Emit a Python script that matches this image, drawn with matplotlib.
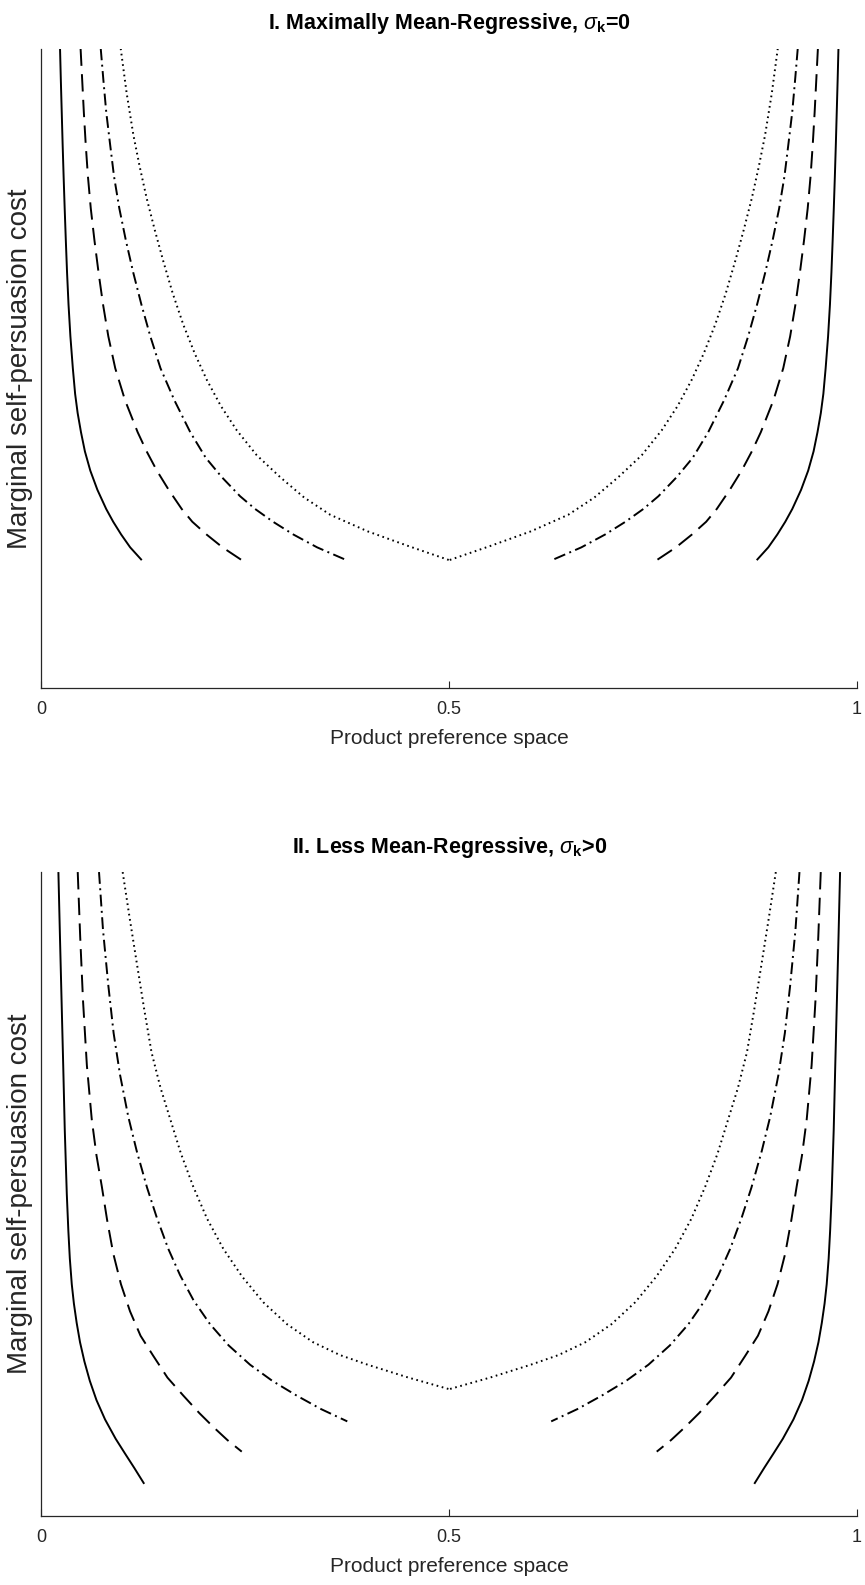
#! /usr/bin/env python3

import matplotlib
matplotlib.use('Agg')
import matplotlib.pyplot as plt

plt.rcParams['font.family'] = ['Liberation Sans', 'DejaVu Sans']
plt.rcParams['mathtext.fontset'] = 'custom'
plt.rcParams['mathtext.rm'] = 'Liberation Sans'
plt.rcParams['mathtext.it'] = 'Liberation Sans:italic'
plt.rcParams['mathtext.bf'] = 'Liberation Sans:bold'
plt.rcParams['lines.scale_dashes'] = False

# ---- Panel I: maximally mean-regressive (all curves end at the same height)
solid_1_y = [1.0, 0.95, 0.90, 0.85, 0.80, 0.75, 0.70, 0.65, 0.60, 0.55, 0.50,
             0.46, 0.43, 0.40, 0.37, 0.34, 0.31, 0.28, 0.26, 0.24, 0.22, 0.20]
solid_1_xl = [0.0228, 0.0238, 0.0249, 0.026, 0.0272, 0.0285, 0.0299, 0.0314, 0.0332, 0.0355, 0.0385,
              0.0413, 0.0444, 0.0485, 0.0533, 0.0599, 0.0686, 0.0794, 0.088, 0.0978, 0.1088, 0.123]
solid_1_xr = [0.9772, 0.9762, 0.9751, 0.974, 0.9728, 0.9715, 0.9701, 0.9686, 0.9668, 0.9645, 0.9615,
              0.9587, 0.9556, 0.9515, 0.9467, 0.9401, 0.9314, 0.9206, 0.912, 0.9022, 0.8912, 0.877]

dashed_1_y = [1.0, 0.95, 0.90, 0.85, 0.80, 0.75, 0.70, 0.65, 0.60, 0.55, 0.50,
              0.45, 0.40, 0.37, 0.34, 0.31, 0.28, 0.26, 0.24, 0.22, 0.20]
dashed_1_xl = [0.048, 0.050, 0.052, 0.0543, 0.057, 0.0605, 0.065, 0.070, 0.0755, 0.082, 0.0905,
               0.1025, 0.118, 0.129, 0.1415, 0.156, 0.172, 0.185, 0.2025, 0.222, 0.2456]
dashed_1_xr = [0.952, 0.950, 0.948, 0.9457, 0.943, 0.9395, 0.935, 0.930, 0.9245, 0.918, 0.9095,
               0.8975, 0.882, 0.871, 0.8585, 0.844, 0.828, 0.815, 0.7975, 0.778, 0.7544]

dashdot_1_y = [1.0, 0.95, 0.90, 0.85, 0.80, 0.75, 0.70, 0.65, 0.60, 0.55, 0.50,
               0.45, 0.40, 0.36, 0.33, 0.30, 0.28, 0.26, 0.24, 0.22, 0.20]
dashdot_1_xl = [0.0727, 0.076, 0.0795, 0.0842, 0.089, 0.0955, 0.1035, 0.1125, 0.1225, 0.1335, 0.146,
                0.163, 0.1825, 0.2015, 0.221, 0.2435, 0.262, 0.284, 0.309, 0.338, 0.374]
dashdot_1_xr = [0.9273, 0.924, 0.9205, 0.9158, 0.911, 0.9045, 0.8965, 0.8875, 0.8775, 0.8665, 0.854,
                0.837, 0.8175, 0.7985, 0.779, 0.7565, 0.738, 0.716, 0.691, 0.662, 0.626]

dotted_1_y = [1.0, 0.93, 0.865, 0.815, 0.766, 0.716, 0.667, 0.617, 0.568, 0.523,
              0.482, 0.441, 0.403, 0.364, 0.330, 0.298, 0.271, 0.245, 0.222, 0.2]
dotted_1_xl = [0.0972, 0.1045, 0.1127, 0.1205, 0.129, 0.139, 0.1495, 0.161, 0.174, 0.188,
               0.2027, 0.22, 0.2395, 0.264, 0.2925, 0.322, 0.354, 0.40, 0.45, 0.5]
dotted_1_xr = [0.9028, 0.8955, 0.8873, 0.8795, 0.871, 0.861, 0.8505, 0.839, 0.826, 0.812,
               0.7973, 0.78, 0.7605, 0.736, 0.7075, 0.678, 0.646, 0.60, 0.55, 0.5]

# ---- Panel II: less mean-regressive (curves end at different heights)
solid_2_y = [1.0, 0.9, 0.8, 0.7, 0.6, 0.5, 0.443, 0.40, 0.36, 0.33,
             0.30, 0.27, 0.24, 0.21, 0.18, 0.15, 0.12, 0.097, 0.075, 0.05]
solid_2_xl = [0.0208, 0.0227, 0.0247, 0.0267, 0.0286, 0.0311, 0.033, 0.0348, 0.0372, 0.0398,
              0.0432, 0.0473, 0.0527, 0.0593, 0.0675, 0.078, 0.091, 0.1025, 0.1137, 0.126]
solid_2_xr = [0.9792, 0.9773, 0.9753, 0.9733, 0.9714, 0.9689, 0.967, 0.9652, 0.9628, 0.9602,
              0.9568, 0.9527, 0.9473, 0.9407, 0.9325, 0.922, 0.909, 0.8975, 0.8863, 0.874]

dashed_2_y = [1.0, 0.9, 0.8, 0.7, 0.616, 0.56, 0.512, 0.46, 0.408, 0.36,
              0.318, 0.28, 0.249, 0.215, 0.187, 0.16, 0.138, 0.118, 0.10]
dashed_2_xl = [0.0445, 0.0475, 0.051, 0.0557, 0.0617, 0.0675, 0.074, 0.0805, 0.088, 0.0975,
               0.1086, 0.1215, 0.137, 0.1545, 0.174, 0.1935, 0.211, 0.228, 0.2456]
dashed_2_xr = [0.9555, 0.9525, 0.949, 0.9443, 0.9383, 0.9325, 0.926, 0.9195, 0.912, 0.9025,
               0.8914, 0.8785, 0.863, 0.8455, 0.826, 0.8065, 0.789, 0.772, 0.7544]

dashdot_2_y = [1.0, 0.91, 0.824, 0.75, 0.685, 0.62, 0.567, 0.51, 0.464, 0.415,
               0.374, 0.335, 0.298, 0.265, 0.235, 0.21, 0.187, 0.166, 0.147]
dashdot_2_xl = [0.0706, 0.0755, 0.082, 0.0885, 0.0964, 0.1065, 0.1168, 0.1295, 0.1413, 0.1555,
                0.170, 0.1865, 0.2067, 0.2295, 0.2558, 0.283, 0.313, 0.343, 0.375]
dashdot_2_xr = [0.9294, 0.9245, 0.918, 0.9115, 0.9036, 0.8935, 0.8832, 0.8705, 0.8587, 0.8445,
                0.830, 0.8135, 0.7933, 0.7705, 0.7442, 0.717, 0.687, 0.657, 0.625]

dotted_2_y = [1.0, 0.93, 0.858, 0.787, 0.72, 0.665, 0.616, 0.563, 0.512, 0.462,
              0.415, 0.372, 0.332, 0.298, 0.270, 0.25, 0.235, 0.215, 0.197]
dotted_2_xl = [0.0996, 0.108, 0.117, 0.126, 0.135, 0.146, 0.158, 0.171, 0.186, 0.203,
               0.223, 0.246, 0.272, 0.301, 0.333, 0.366, 0.40, 0.45, 0.5]
dotted_2_xr = [0.9004, 0.892, 0.883, 0.874, 0.865, 0.854, 0.842, 0.829, 0.814, 0.797,
               0.777, 0.754, 0.728, 0.699, 0.667, 0.634, 0.60, 0.55, 0.5]

x_ticks = [0, 0.5, 1]
x_tick_labels = ['0', '0.5', '1']

titles = [r'I. Maximally Mean-Regressive, $\sigma_{\mathbf{k}}$=0',
          r'II. Less Mean-Regressive, $\sigma_{\mathbf{k}}$>0']

STYLES = {
    'solid': '-',
    'dashed': (0, (12.5, 6)),
    'dashdot': (0, (8.5, 3.2, 1.4, 3.2)),
    'dotted': (0, (1.2, 2.6)),
}
AXIS_GREY = '#262626'


def draw_panel(ax, curves, title):
    for style, y, xl, xr in curves:
        for x in (xl, xr):
            ax.plot(x, y, color='black', lw=1.4, linestyle=STYLES[style],
                    solid_capstyle='butt', dash_capstyle='butt',
                    solid_joinstyle='round', dash_joinstyle='round')

    ax.set_xlim(0, 1)
    ax.set_ylim(0, 1)
    for side in ('top', 'right'):
        ax.spines[side].set_visible(False)
    for side in ('left', 'bottom'):
        ax.spines[side].set_color(AXIS_GREY)
        ax.spines[side].set_linewidth(0.9)

    ax.set_xticks(x_ticks)
    ax.set_xticklabels(x_tick_labels)
    ax.set_yticks([])
    ax.tick_params(axis='x', direction='in', length=5, width=0.8,
                   colors=AXIS_GREY, labelsize=13, pad=9)

    ax.set_xlabel('Product preference space', fontsize=15, color=AXIS_GREY, labelpad=8)
    ax.set_ylabel('Marginal self-persuasion cost', fontsize=20, color=AXIS_GREY, labelpad=6)
    ax.set_title(title, fontsize=15.5, fontweight='bold', pad=14)


def main():
    fig = plt.figure(figsize=(8.65, 15.85), dpi=100)
    ax1 = fig.add_axes([0.0479, 0.5659, 0.9429, 0.4035])
    ax2 = fig.add_axes([0.0479, 0.0435, 0.9429, 0.4063])

    draw_panel(ax1, [
        ('solid', solid_1_y, solid_1_xl, solid_1_xr),
        ('dashed', dashed_1_y, dashed_1_xl, dashed_1_xr),
        ('dashdot', dashdot_1_y, dashdot_1_xl, dashdot_1_xr),
        ('dotted', dotted_1_y, dotted_1_xl, dotted_1_xr),
    ], titles[0])

    draw_panel(ax2, [
        ('solid', solid_2_y, solid_2_xl, solid_2_xr),
        ('dashed', dashed_2_y, dashed_2_xl, dashed_2_xr),
        ('dashdot', dashdot_2_y, dashdot_2_xl, dashdot_2_xr),
        ('dotted', dotted_2_y, dotted_2_xl, dotted_2_xr),
    ], titles[1])

    fig.savefig('out.png', dpi=100)


if __name__ == "__main__":
    main()
